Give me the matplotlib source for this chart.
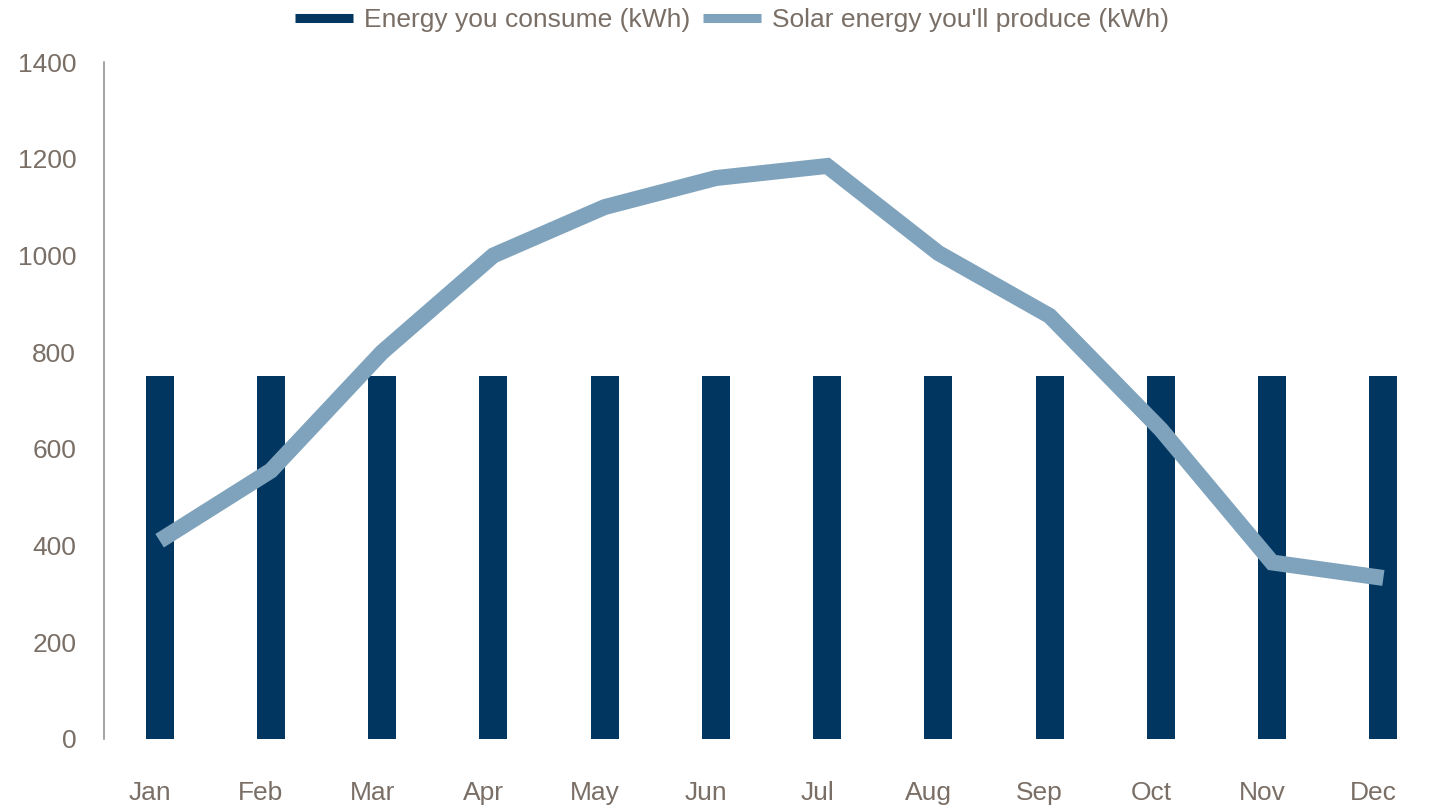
import matplotlib.pyplot as plt
from matplotlib.lines import Line2D
from matplotlib.transforms import ScaledTranslation
import numpy as np

months = ["Jan", "Feb", "Mar", "Apr", "May", "Jun",
          "Jul", "Aug", "Sep", "Oct", "Nov", "Dec"]
consumed = [750, 750, 750, 750, 750, 750, 750, 750, 750, 750, 750, 750]
solar = [410, 555, 800, 1000, 1100, 1160, 1185, 1005, 875, 640, 365, 333]

bar_color = "#003660"
line_color = "#7fa3bc"
text_color = "#7a6f66"

plt.rcParams['font.family'] = ['Liberation Sans', 'DejaVu Sans']

fig = plt.figure(figsize=(14.29, 8.08), dpi=100)
# axes run a little past the right edge, like the original
ax = fig.add_axes([104 / 1429, 69 / 808, 1335 / 1429, 677 / 808])

x = np.arange(len(months))
ax.bar(x, consumed, width=0.25, color=bar_color, zorder=2)
ax.plot(x, solar, color=line_color, lw=11.5, solid_joinstyle='miter',
        solid_capstyle='butt', zorder=3)

ax.set_xlim(-0.5, 11.5)
ax.set_ylim(0, 1400)
ax.set_yticks(np.arange(0, 1401, 200))
ax.set_xticks(x)
ax.set_xticklabels(months)
ax.tick_params(axis='both', length=0, labelsize=19, labelcolor=text_color)
ax.tick_params(axis='y', pad=20)
ax.tick_params(axis='x', pad=30)
for lbl in ax.get_xticklabels():
    lbl.set_transform(lbl.get_transform() +
                      ScaledTranslation(-10 / 100, 0, fig.dpi_scale_trans))

for s in ["top", "right", "bottom"]:
    ax.spines[s].set_visible(False)
ax.spines["left"].set_color("#8c8c8c")
ax.spines["left"].set_linewidth(1.1)

handles = [Line2D([], [], color=bar_color, lw=6.5, solid_capstyle='butt'),
           Line2D([], [], color=line_color, lw=6.5, solid_capstyle='butt')]
leg = fig.legend(handles, ["Energy you consume (kWh)", "Solar energy you'll produce (kWh)"],
                 loc="center", bbox_to_anchor=(732 / 1429, 1 - 20 / 808), ncol=2,
                 frameon=False, fontsize=19, handlelength=2.2, handletextpad=0.42,
                 columnspacing=0.5, borderpad=0, borderaxespad=0)
for t in leg.get_texts():
    t.set_color(text_color)

fig.savefig("out.png", dpi=100)
